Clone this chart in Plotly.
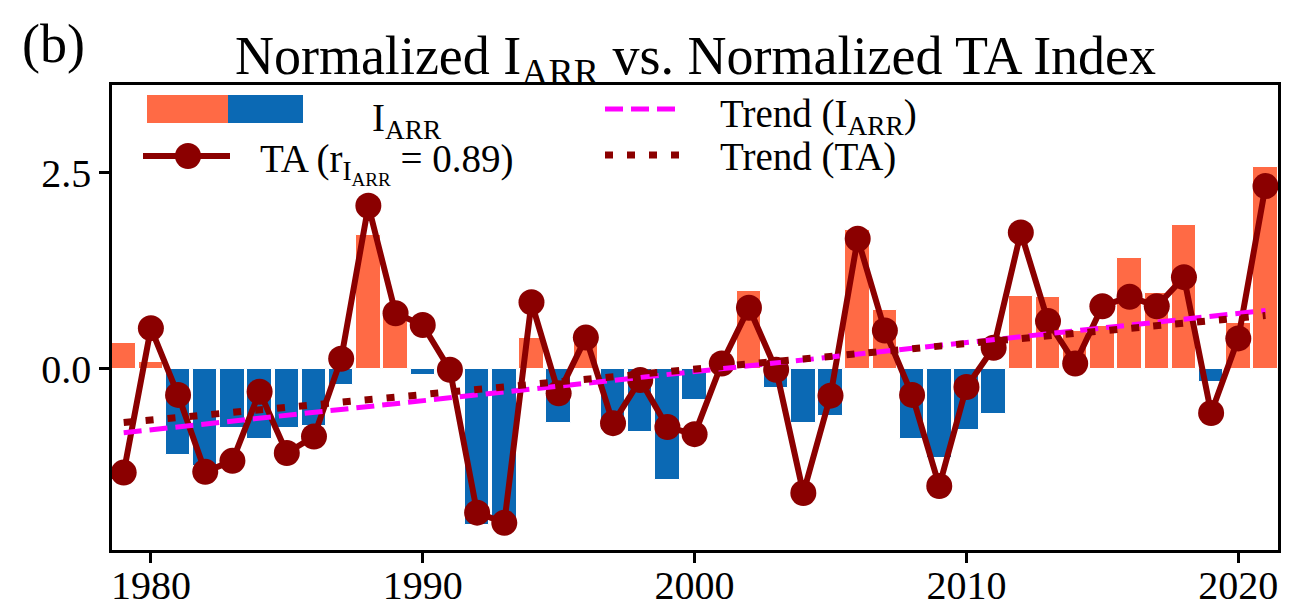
import numpy as np
import plotly.graph_objects as go

years = list(range(1979, 2022))
iarr = [0.33, 0.09, -1.10, -1.24, -0.75, -0.89, -0.75, -0.72, -0.20, 1.71, 0.73, -0.08, -0.05, -1.99, -1.99,
        0.40, -0.69, 0.40, -0.78, -0.80, -1.42, -0.39, 0.05, 0.99, -0.24, -0.69, -0.60, 1.77, 0.75, -0.89,
        -1.14, -0.78, -0.57, 0.93, 0.92, 0.48, 0.55, 1.42, 0.97, 1.83, -0.16, 0.58, 2.57]
ta = [-1.32, 0.52, -0.33, -1.31, -1.17, -0.29, -1.07, -0.86, 0.13, 2.08, 0.71, 0.56, -0.01, -1.83, -1.96,
      0.85, -0.31, 0.40, -0.69, -0.14, -0.74, -0.83, 0.07, 0.78, -0.01, -1.58, -0.34, 1.66, 0.49, -0.33,
      -1.49, -0.23, 0.27, 1.74, 0.61, 0.07, 0.80, 0.92, 0.80, 1.17, -0.56, 0.39, 2.33]
r_value = 0.89
x_ticks = [1980, 1990, 2000, 2010, 2020]

POS = "#FF6A45"
NEG = "#0B69B4"
DARK = "#8B0000"
MAG = "#FF00FF"
FONT = "Liberation Serif"

yrs = np.array(years, dtype=float)
p_i = np.polyfit(yrs, np.array(iarr), 1)
p_t = np.polyfit(yrs, np.array(ta), 1)
trend_i = np.polyval(p_i, yrs)
trend_t = np.polyval(p_t, yrs)

fig = go.Figure()
fig.add_trace(go.Bar(x=years, y=iarr, width=0.9,
                     marker=dict(color=[POS if v >= 0 else NEG for v in iarr],
                                 line=dict(color="white", width=1)),
                     showlegend=False))
fig.add_trace(go.Scatter(x=years, y=ta, mode="lines+markers",
                         line=dict(color=DARK, width=6),
                         marker=dict(color=DARK, size=26), showlegend=False))
fig.add_trace(go.Scatter(x=years, y=trend_i, mode="lines",
                         line=dict(color=MAG, width=5, dash="18px,8px"), showlegend=False))
fig.add_trace(go.Scatter(x=years, y=trend_t, mode="lines",
                         line=dict(color=DARK, width=7, dash="8px,14px"), showlegend=False))

L, R, T, B = 112, 1278, 85, 550
def px(x):
    return (x - L) / (R - L)
def py(y):
    return (B - y) / (B - T)

shapes = [
    dict(type="rect", xref="paper", yref="paper", x0=px(147), x1=px(228), y0=py(123), y1=py(95),
         fillcolor=POS, line=dict(width=0), layer="above"),
    dict(type="rect", xref="paper", yref="paper", x0=px(228), x1=px(303), y0=py(123), y1=py(95),
         fillcolor=NEG, line=dict(width=0), layer="above"),
    dict(type="line", xref="paper", yref="paper", x0=px(143), x1=px(230), y0=py(156), y1=py(156),
         line=dict(color=DARK, width=6), layer="above"),
    dict(type="circle", xref="paper", yref="paper", x0=px(175), x1=px(201), y0=py(169), y1=py(143),
         fillcolor=DARK, line=dict(width=0), layer="above"),
    dict(type="line", xref="paper", yref="paper", x0=px(605), x1=px(683), y0=py(109), y1=py(109),
         line=dict(color=MAG, width=5, dash="18px,8px"), layer="above"),
    dict(type="line", xref="paper", yref="paper", x0=px(605), x1=px(683), y0=py(155), y1=py(155),
         line=dict(color=DARK, width=7, dash="8px,14px"), layer="above"),
]

LF = dict(family=FONT, size=39, color="black")
annotations = [
    dict(text="I<sub>ARR</sub>", xref="paper", yref="paper", x=px(370), y=py(120),
         xanchor="left", yanchor="middle", showarrow=False, font=LF),
    dict(text="TA (r<sub>I<sub>ARR</sub></sub> = %.2f)" % r_value, xref="paper", yref="paper",
         x=px(258), y=py(163), xanchor="left", yanchor="middle", showarrow=False, font=LF),
    dict(text="Trend (I<sub>ARR</sub>)", xref="paper", yref="paper", x=px(718), y=py(116),
         xanchor="left", yanchor="middle", showarrow=False, font=LF),
    dict(text="Trend (TA)", xref="paper", yref="paper", x=px(718), y=py(157),
         xanchor="left", yanchor="middle", showarrow=False, font=LF),
    dict(text="(b)", xref="paper", yref="paper", x=px(20), y=py(44),
         xanchor="left", yanchor="middle", showarrow=False,
         font=dict(family=FONT, size=54, color="black")),
]

fig.update_layout(
    width=1290, height=608,
    margin=dict(l=L, r=1290 - R, t=T, b=608 - B, autoexpand=False),
    paper_bgcolor="white", plot_bgcolor="white",
    bargap=0,
    title=dict(text="Normalized I<sub>ARR</sub> vs. Normalized TA Index",
               x=px(695.5), xref="paper", xanchor="center",
               y=1 - 55 / 608, yref="container", yanchor="middle",
               font=dict(family=FONT, size=54, color="black")),
    shapes=shapes, annotations=annotations,
    xaxis=dict(range=[1978.57, 2021.46], tickvals=x_ticks, ticks="outside", ticklen=10, tickwidth=2.5,
               tickcolor="black", showline=True, linecolor="black", linewidth=2.5, mirror=True,
               showgrid=False, zeroline=False, automargin=False, ticklabelstandoff=-12,
               tickfont=dict(family=FONT, size=40, color="black")),
    yaxis=dict(range=[-2.306, 3.618], tickvals=[0.0, 2.5], tickformat=".1f", ticks="outside",
               ticklen=10, tickwidth=2.5, tickcolor="black", showline=True, linecolor="black",
               linewidth=2.5, mirror=True, showgrid=False, zeroline=False, automargin=False,
               tickfont=dict(family=FONT, size=40, color="black")),
)

fig.write_html("out.html")
